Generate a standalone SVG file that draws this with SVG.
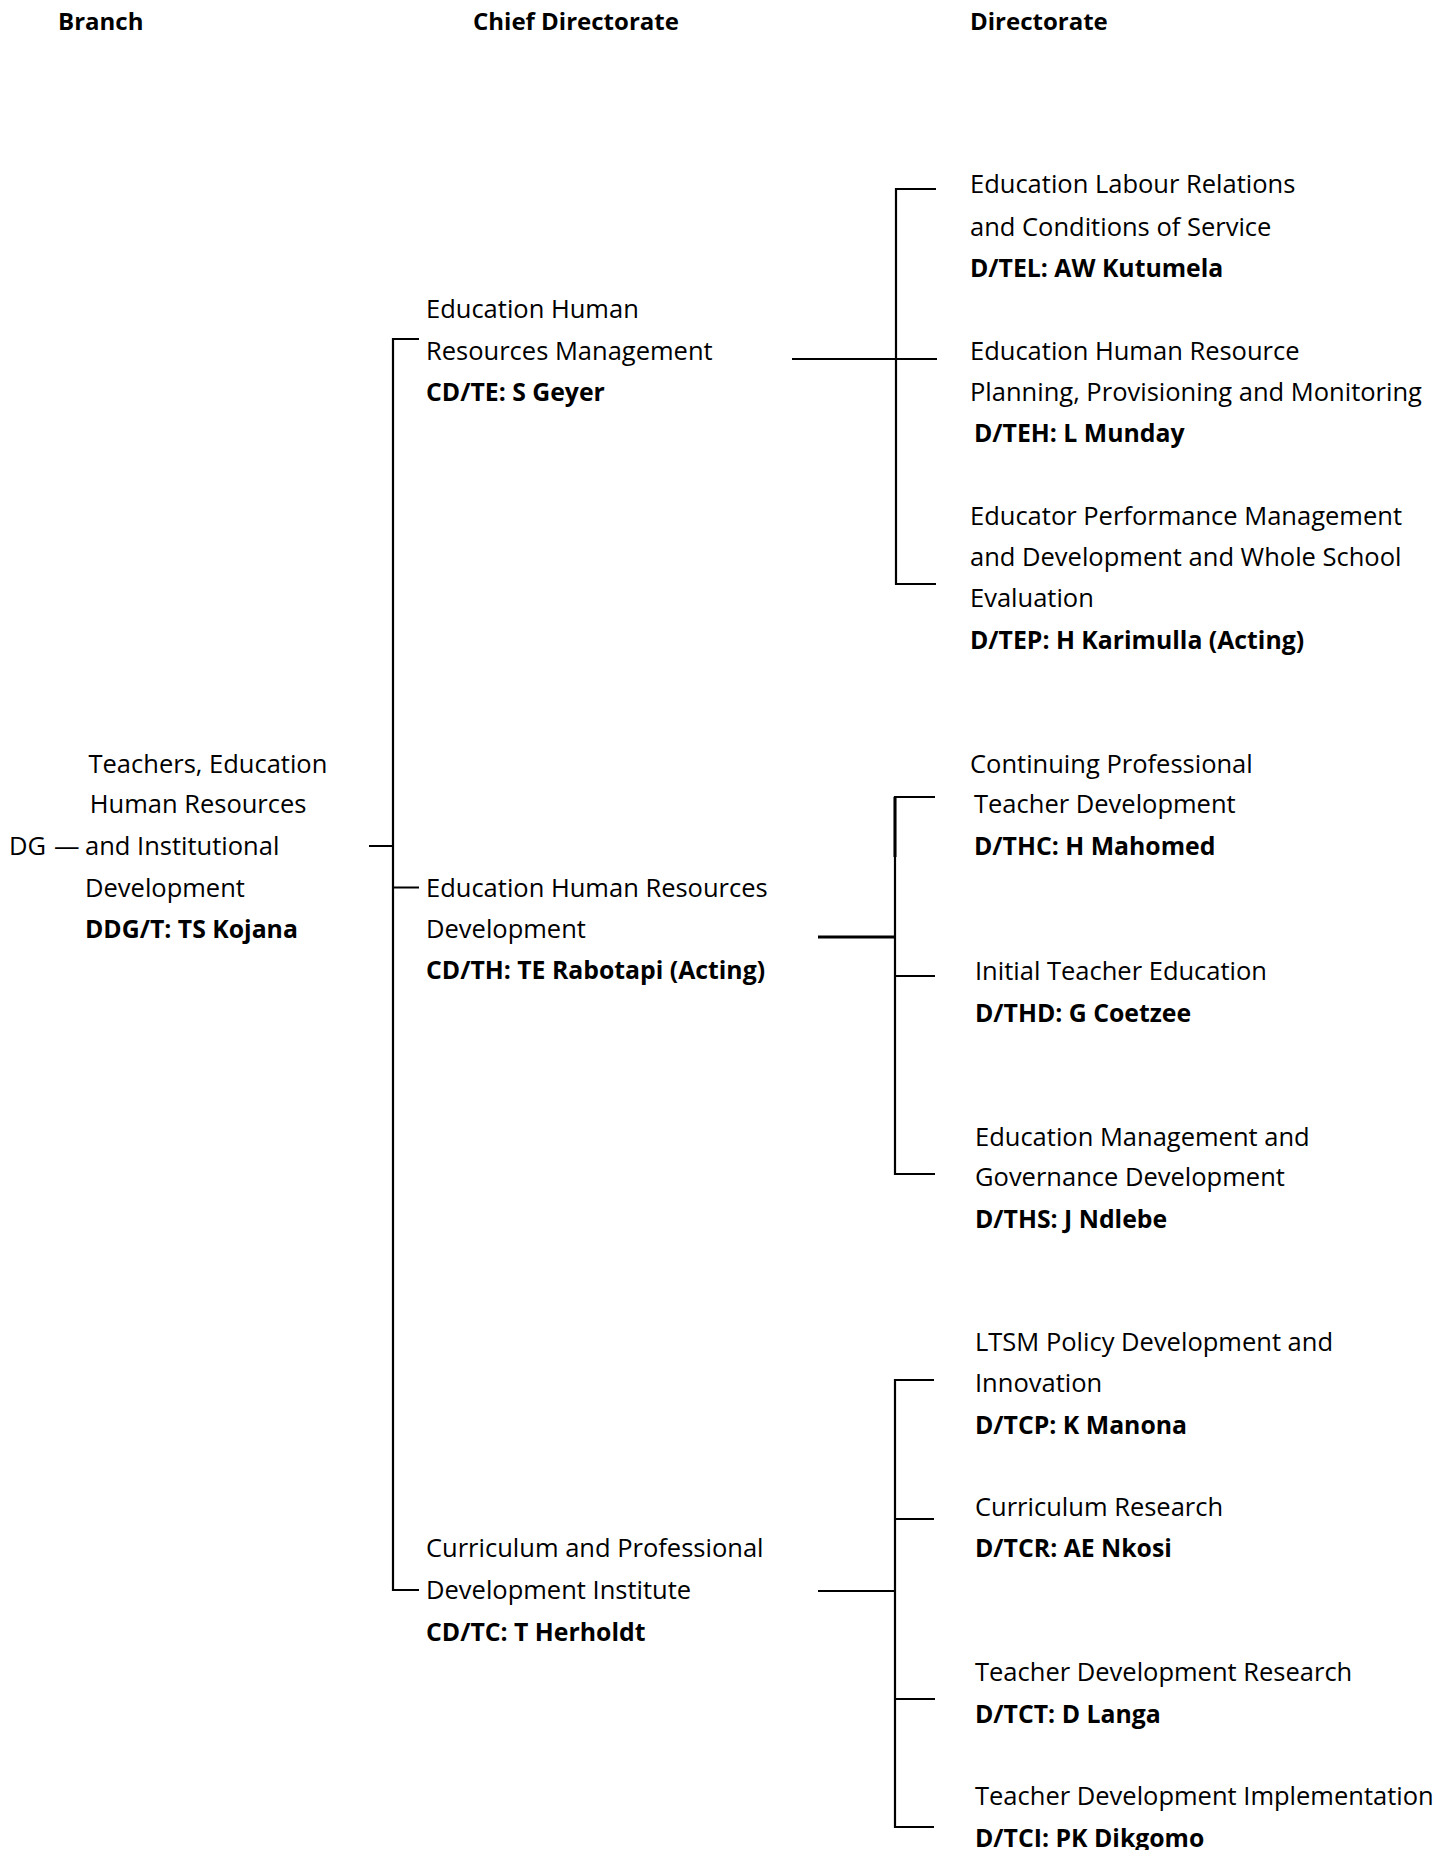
<svg xmlns="http://www.w3.org/2000/svg" width="1454" height="1850" viewBox="0 0 1454 1850">
<style>
text{font-family:"Open Sans","Noto Sans",sans-serif;font-size:25.5px;fill:#000}
.b{font-weight:bold;font-size:24.8px}
.h{font-weight:bold;font-size:24px}
.c{stroke:#000;stroke-width:2.2;fill:none}
.t{stroke:#000;stroke-width:3;fill:none}
</style>
<rect width="1454" height="1850" fill="#fff"/>
<g id="headers">
<text class="h" x="58" y="30">Branch</text>
<text class="h" x="473" y="30">Chief Directorate</text>
<text class="h" x="970" y="30">Directorate</text>
</g>
<g id="connectors">
<path class="c" d="M369,846 H393 M419,339 H393 V1590 H419 M393,887.5 H419"/>
<path class="c" d="M792,359 H937 M936,189 H896 V584 H936"/>
<path class="t" d="M818,937 H895"/>
<path class="c" d="M935,797 H895 V1174 H935 M895,976 H935"/>
<path class="t" d="M895,797 V857"/>
<path class="c" d="M818,1591 H895 M934,1380 H895 V1827 H934 M895,1519 H934 M895,1699 H935"/>
</g>
<g id="dg"><text x="9" y="855">DG<tspan dx="8">—</tspan></text></g>
<g id="branch">
<text x="88.5" y="772.6">Teachers, Education</text>
<text x="89.7" y="812.7">Human Resources</text>
<text x="85" y="855.2">and Institutional</text>
<text x="85" y="896.5">Development</text>
<text class="b" x="85" y="937.8">DDG/T: TS Kojana</text>
</g>
<g id="cd-te">
<text x="426" y="318.2">Education Human</text>
<text x="426" y="359.5">Resources Management</text>
<text class="b" x="426" y="400.8">CD/TE: S Geyer</text>
</g>
<g id="cd-th">
<text x="426" y="896.5">Education Human Resources</text>
<text x="426" y="937.8">Development</text>
<text class="b" x="426" y="979.1">CD/TH: TE Rabotapi (Acting)</text>
</g>
<g id="cd-tc">
<text x="426" y="1557.4">Curriculum and Professional</text>
<text x="426" y="1598.7">Development Institute</text>
<text class="b" x="426" y="1641.2">CD/TC: T Herholdt</text>
</g>
<g id="d-tel">
<text x="970" y="193.1">Education Labour Relations</text>
<text x="970" y="235.6">and Conditions of Service</text>
<text class="b" x="970" y="276.9">D/TEL: AW Kutumela</text>
</g>
<g id="d-teh">
<text x="970" y="359.5">Education Human Resource</text>
<text x="970" y="400.8">Planning, Provisioning and Monitoring</text>
<text class="b" x="974" y="442.1">D/TEH: L Munday</text>
</g>
<g id="d-tep">
<text x="970" y="524.7">Educator Performance Management</text>
<text x="970" y="566.1">and Development and Whole School</text>
<text x="970" y="607.4">Evaluation</text>
<text class="b" x="970" y="648.7">D/TEP: H Karimulla (Acting)</text>
</g>
<g id="d-thc">
<text x="970" y="772.6">Continuing Professional</text>
<text x="974" y="812.7">Teacher Development</text>
<text class="b" x="974" y="855.2">D/THC: H Mahomed</text>
</g>
<g id="d-thd">
<text x="975" y="980.3">Initial Teacher Education</text>
<text class="b" x="975" y="1021.6">D/THD: G Coetzee</text>
</g>
<g id="d-ths">
<text x="975" y="1145.5">Education Management and</text>
<text x="975" y="1185.7">Governance Development</text>
<text class="b" x="975" y="1228.1">D/THS: J Ndlebe</text>
</g>
<g id="d-tcp">
<text x="975" y="1350.9">LTSM Policy Development and</text>
<text x="975" y="1392.2">Innovation</text>
<text class="b" x="975" y="1433.5">D/TCP: K Manona</text>
</g>
<g id="d-tcr">
<text x="975" y="1516.1">Curriculum Research</text>
<text class="b" x="975" y="1557.4">D/TCR: AE Nkosi</text>
</g>
<g id="d-tct">
<text x="975" y="1681.4">Teacher Development Research</text>
<text class="b" x="975" y="1722.6">D/TCT: D Langa</text>
</g>
<g id="d-tci">
<text x="975" y="1805.3">Teacher Development Implementation</text>
<text class="b" x="975" y="1846.6">D/TCI: PK Dikgomo</text>
</g>
</svg>
